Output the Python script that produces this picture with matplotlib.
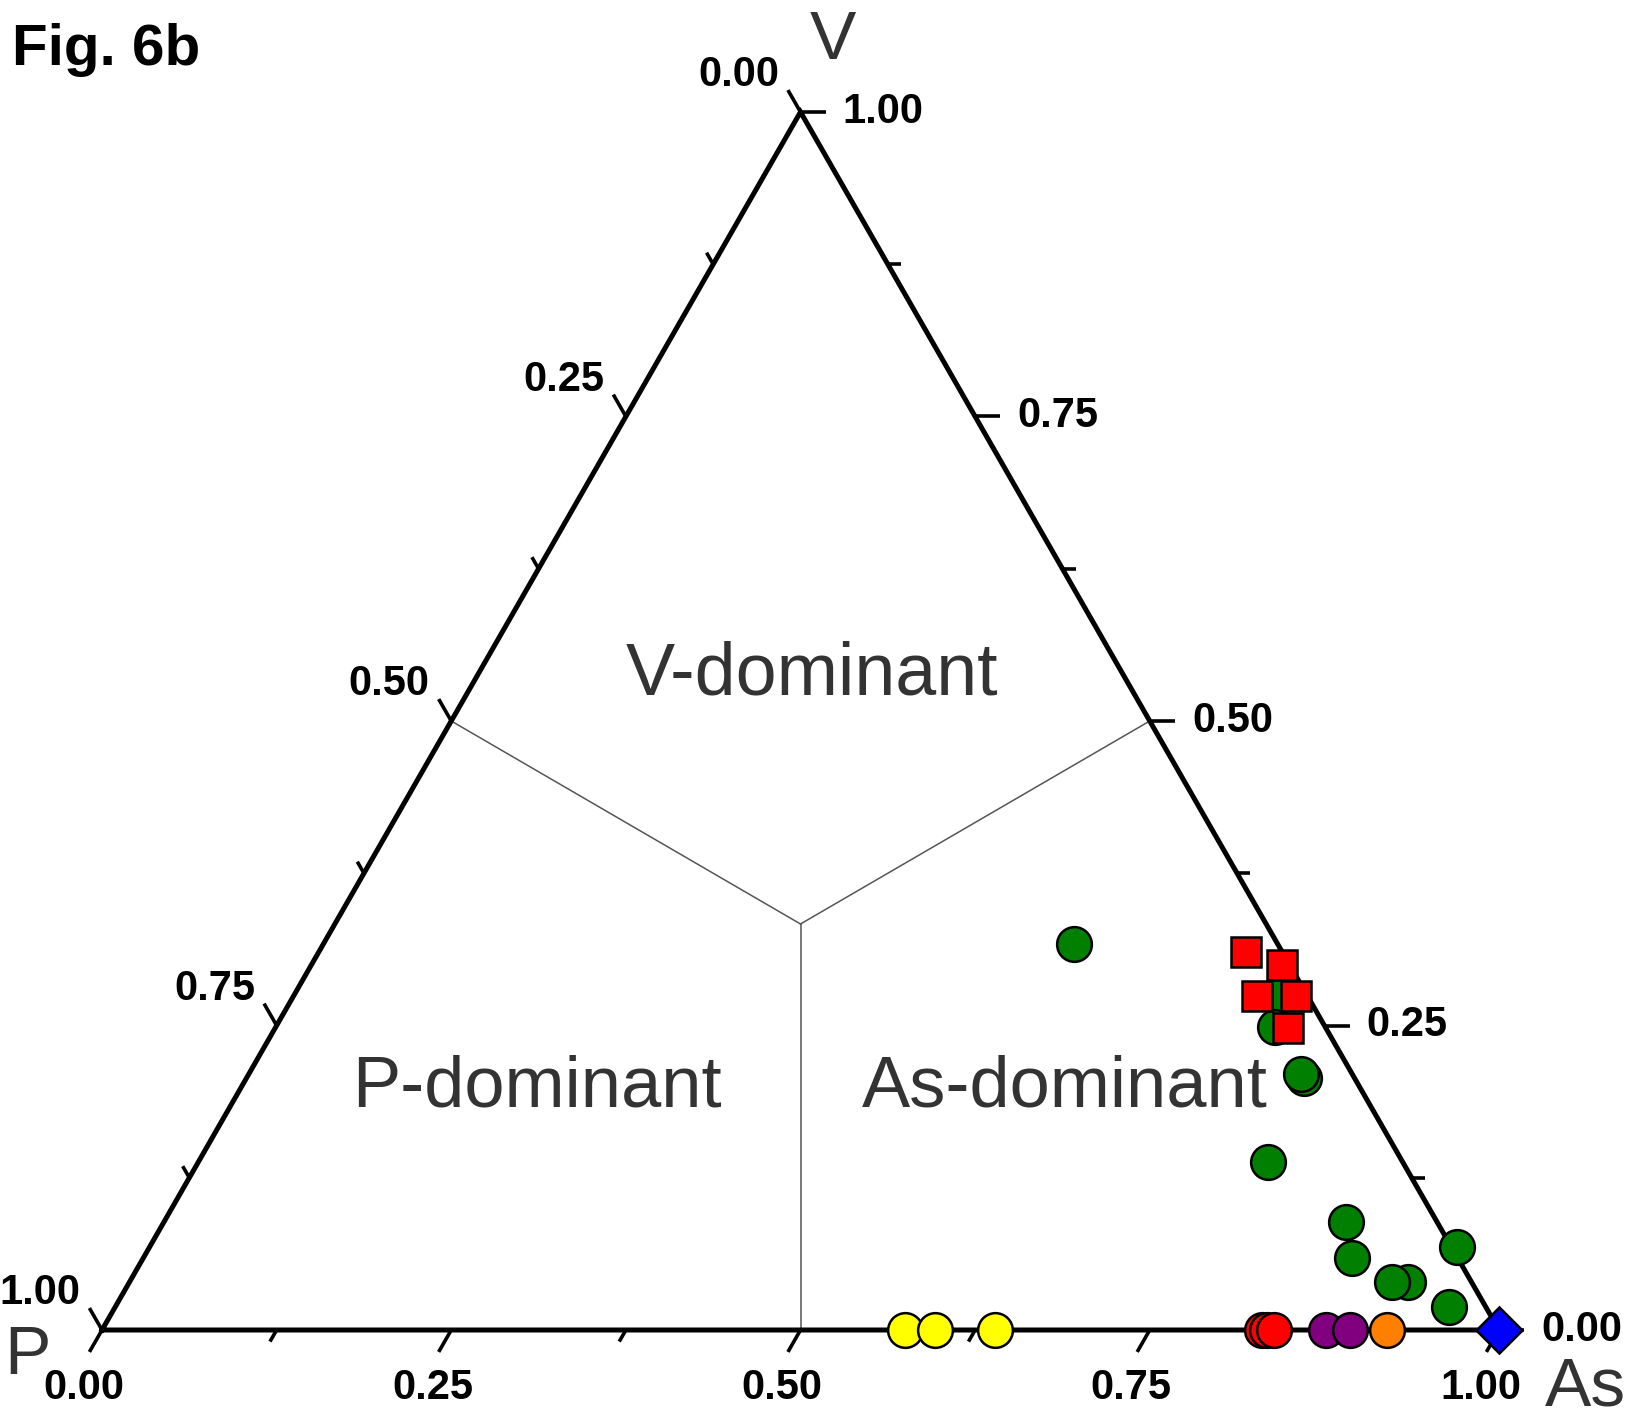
import numpy as np
import matplotlib
matplotlib.use("Agg")
import matplotlib.pyplot as plt

plt.rcParams['font.family'] = ['Liberation Sans', 'DejaVu Sans']

# compositions as (As, V) fractions, P = 1 - As - V
green_as = [0.537, 0.705, 0.715, 0.757, 0.753, 0.766, 0.846, 0.865, 0.915, 0.904, 0.936, 0.955]
green_v = [0.317, 0.273, 0.249, 0.207, 0.210, 0.138, 0.0887, 0.0591, 0.0394, 0.0394, 0.0681, 0.0189]

square_as = [0.664, 0.695, 0.690, 0.718, 0.725]
square_v = [0.310, 0.300, 0.274, 0.274, 0.248]

yellow_as = [0.575, 0.596, 0.639]
red_as = [0.830, 0.834, 0.839]
purple_as = [0.876, 0.893]
orange_as = [0.920]
blue_as = [1.0]

major = [0.0, 0.25, 0.5, 0.75, 1.0]
minor = [0.125, 0.375, 0.625, 0.875]
tick_labels = ["0.00", "0.25", "0.50", "0.75", "1.00"]

S = np.sqrt(3) / 2


def tern(a, v):
    a = np.asarray(a, float)
    v = np.asarray(v, float)
    return a + v / 2, v * S


fig = plt.figure(figsize=(16.32, 14.17), dpi=100)
ax = fig.add_axes([102 / 1632, 87 / 1417, 1397 / 1632, 1218 / 1417])
ax.set_xlim(0, 1)
ax.set_ylim(0, S)
ax.axis('off')

# triangle frame
ax.plot([0, 1, 0.5, 0], [0, 0, S, 0], color='black', lw=3.6,
        solid_joinstyle='miter', zorder=2, clip_on=False)

# field boundaries from the centroid to the edge midpoints
cx, cy = tern(1 / 3, 1 / 3)
for a, v in [(0.5, 0.0), (0.0, 0.5), (0.5, 0.5)]:
    mx, my = tern(a, v)
    ax.plot([cx, mx], [cy, my], color='#555555', lw=1.1, zorder=1)

# ticks: (position function, direction, label offset, alignment)
axes_def = {
    'bottom': (lambda t: tern(t, 0.0), (-0.5, -S), (-6, -16), 'center', 'top'),
    'left': (lambda t: tern(0.0, 1 - t), (-0.5, S), (-9, -5), 'right', 'bottom'),
    'right': (lambda t: tern(1 - t, t), (1.0, 0.0), (17, 0), 'left', 'center'),
}
L_major, L_minor = 0.018, 0.0095
for name, (pos, d, off, ha, va) in axes_def.items():
    for t, lab in zip(major, tick_labels):
        x0, y0 = pos(t)
        x1, y1 = x0 + d[0] * L_major, y0 + d[1] * L_major
        ax.plot([x0, x1], [y0, y1], color='black', lw=2.6, zorder=2,
                clip_on=False, solid_capstyle='butt')
        ax.annotate(lab, xy=(x1, y1), xytext=off, textcoords='offset pixels',
                    ha=ha, va=va, fontsize=30, fontweight='bold',
                    annotation_clip=False)
    for t in minor:
        x0, y0 = pos(t)
        x1, y1 = x0 + d[0] * L_minor, y0 + d[1] * L_minor
        ax.plot([x0, x1], [y0, y1], color='black', lw=2.6, zorder=2,
                clip_on=False, solid_capstyle='butt')

# vertex labels
for lab, (a, v), off in [("V", (0, 1), (32, 71)), ("P", (0, 0), (-75, -26)),
                         ("As", (1, 0), (86, -58))]:
    x, y = tern(a, v)
    ax.annotate(lab, xy=(x, y), xytext=off, textcoords='offset pixels',
                ha='center', va='center', fontsize=50, color='#333333',
                annotation_clip=False)

# field names
ax.text(0.508, 0.466, "V-dominant", ha='center', va='center', fontsize=53, color='#333333')
ax.text(0.311, 0.172, "P-dominant", ha='center', va='center', fontsize=52, color='#333333')
ax.text(0.689, 0.172, "As-dominant", ha='center', va='center', fontsize=52, color='#333333')

mk = dict(linestyle='none', markeredgecolor='black', markeredgewidth=1.8, clip_on=False)

x, y = tern(yellow_as, np.zeros(len(yellow_as)))
ax.plot(x, y, marker='o', markersize=25, markerfacecolor='#FFFF00', zorder=4, **mk)
x, y = tern(red_as, np.zeros(len(red_as)))
for xi, yi in zip(x, y):
    ax.plot(xi, yi, marker='o', markersize=25, markerfacecolor='#FF0000', zorder=4, **mk)
x, y = tern(purple_as, np.zeros(len(purple_as)))
for xi, yi in zip(x, y):
    ax.plot(xi, yi, marker='o', markersize=25, markerfacecolor='#800080', zorder=4, **mk)
x, y = tern(orange_as, np.zeros(len(orange_as)))
ax.plot(x, y, marker='o', markersize=25, markerfacecolor='#FF8000', zorder=4, **mk)

x, y = tern(green_as, green_v)
for xi, yi in zip(x, y):
    ax.plot(xi, yi, marker='o', markersize=25, markerfacecolor='#007F00', zorder=4, **mk)

x, y = tern(square_as, square_v)
for xi, yi in zip(x, y):
    ax.plot(xi, yi, marker='s', markersize=22, markerfacecolor='#FF0000', zorder=5, **mk)

x, y = tern(blue_as, np.zeros(len(blue_as)))
ax.plot(x, y, marker='D', markersize=23, markerfacecolor='#0000FF', zorder=5, **mk)

fig.text(12 / 1632, 1 - 65 / 1417, "Fig. 6b", ha='left', va='baseline', fontsize=42,
         fontweight='bold')

fig.savefig("out.png", dpi=100)
